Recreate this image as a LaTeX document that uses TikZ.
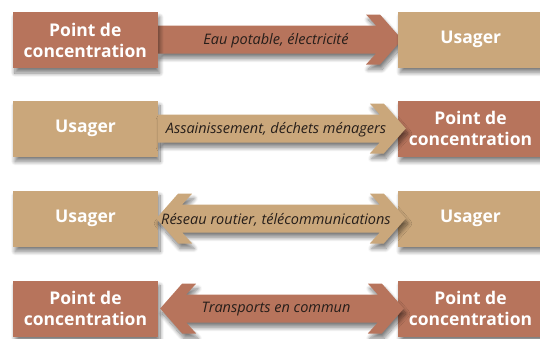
\documentclass[tikz,border=0pt]{standalone}
\usepackage{fontspec}
\setmainfont{Open Sans}
\usetikzlibrary{calc,shadows.blur}
\definecolor{brownc}{RGB}{183,116,92}
\definecolor{tanc}{RGB}{202,167,123}
\definecolor{labelc}{RGB}{38,30,26}
\tikzset{
  myshadow/.style={blur shadow={shadow xshift=2pt, shadow yshift=-5pt, shadow blur radius=4pt, shadow blur steps=12, shadow opacity=50}},
  box/.style={minimum width=145pt, minimum height=56pt, inner sep=0pt, text=white,
    font=\fontsize{17.5}{21}\selectfont\bfseries, align=center, myshadow},
  brownbox/.style={box, fill=brownc},
  tanbox/.style={box, fill=tanc},
  fat/.style={myshadow},
  lab/.style={font=\fontsize{14.5}{17}\selectfont\itshape, text=labelc, inner sep=0pt}
}
% one-way fat arrow: #1 colour, #2 start point, #3 end point, #4 tip shift
\newcommand\onewayarrow[4]{%
  \fill[#1, fat] let \p1=(#2), \p3=($(#3)+(#4,0)$) in
    (\x1,\y3+14pt) -- (\x3-26pt,\y3+14pt) -- (\x3-36pt,\y3+25pt) -- (\x3-22pt,\y3+25pt)
    -- (\x3,\y3) -- (\x3-22pt,\y3-25pt) -- (\x3-36pt,\y3-25pt) -- (\x3-26pt,\y3-14pt)
    -- (\x1,\y3-14pt) -- cycle;}
% two-way fat arrow: #1 colour, #2 left point, #3 right point, #4 left tip shift, #5 right tip shift
\newcommand\twowayarrow[5]{%
  \fill[#1, fat] let \p1=($(#2)+(#4,0)$), \p3=($(#3)+(#5,0)$) in
    (\x1,\y3) -- (\x1+22pt,\y3+25pt) -- (\x1+36pt,\y3+25pt) -- (\x1+26pt,\y3+14pt)
    -- (\x3-26pt,\y3+14pt) -- (\x3-36pt,\y3+25pt) -- (\x3-22pt,\y3+25pt)
    -- (\x3,\y3) -- (\x3-22pt,\y3-25pt) -- (\x3-36pt,\y3-25pt) -- (\x3-26pt,\y3-14pt)
    -- (\x1+26pt,\y3-14pt) -- (\x1+36pt,\y3-25pt) -- (\x1+22pt,\y3-25pt) -- cycle;}
\begin{document}
\begin{tikzpicture}[x=1pt,y=-1pt]
\useasboundingbox (0,0) rectangle (540,338);
\clip (0,0) rectangle (540,338);
% row 1 (arrow lies behind its boxes)
\coordinate (l1e) at (158,40);
\coordinate (r1w) at (398,39.5);
\onewayarrow{brownc}{l1e}{r1w}{4}
\node[brownbox, anchor=east] (l1) at (l1e) {Point de\\concentration};
\node[tanbox, anchor=west] (r1) at (r1w) {Usager};
\node[lab] (t1) at ($(l1.east)!0.5!(r1.west)+(-2,1)$) {Eau potable, électricité};
% row 2
\node[tanbox] (l2) at (85.5,128.5) {Usager};
\node[brownbox] (r2) at (470.5,128.5) {Point de\\concentration};
\onewayarrow{tanc}{l2.east}{r2.west}{8}
\node[lab] (t2) at ($(l2.east)!0.5!(r2.west)+(-2,1)$) {Assainissement, déchets ménagers};
% row 3
\node[tanbox] (l3) at (85.5,218.5) {Usager};
\node[tanbox] (r3) at (470.5,218.5) {Usager};
\twowayarrow{tanc}{l3.east}{r3.west}{-2}{8}
\node[lab] (t3) at ($(l3.east)!0.5!(r3.west)+(-2,1)$) {Réseau routier, télécommunications};
% row 4
\node[brownbox] (l4) at (85.5,308.5) {Point de\\concentration};
\node[brownbox] (r4) at (470.5,308.5) {Point de\\concentration};
\twowayarrow{brownc}{l4.east}{r4.west}{2}{6}
\node[lab] (t4) at ($(l4.east)!0.5!(r4.west)+(-2,1)$) {Transports en commun};
\end{tikzpicture}
\end{document}
